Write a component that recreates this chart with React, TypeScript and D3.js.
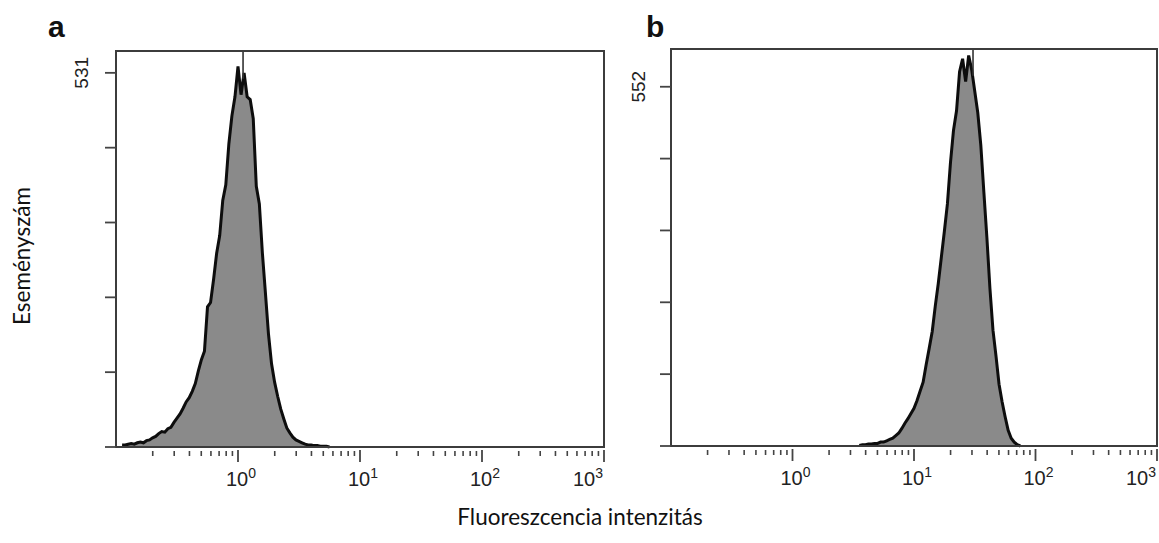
import React from "react";
import * as d3 from "d3";

// ---- data ----
const panelLabels = ["a", "b"];
const yMaxLabels = [531, 552];
const yDomainMax = [562, 610];
const yTickCount = 5;
const xDecadeExps = [0, 1, 2, 3];
const minorMults = [2, 3, 4, 5, 6, 7, 8, 9];
const xDomain: [number, number] = [0.1, 1000];
const markerIntensity = [1.1, 30.6];
const xTitle = "Fluoreszcencia intenzitás";
const yTitle = "Eseményszám";

// channel positions (log10 intensity) and event counts, panel a
const aChannelsLog = [
  -0.95, -0.925, -0.9, -0.875, -0.85, -0.825, -0.8, -0.775, -0.75, -0.725,
  -0.7, -0.675, -0.65, -0.625, -0.6, -0.575, -0.55, -0.525, -0.5, -0.475,
  -0.45, -0.425, -0.4, -0.375, -0.35, -0.325, -0.3, -0.275, -0.25, -0.225,
  -0.2, -0.175, -0.15, -0.125, -0.1, -0.075, -0.05, -0.025, 0.0, 0.025,
  0.05, 0.075, 0.1, 0.125, 0.15, 0.175, 0.2, 0.225, 0.25, 0.275,
  0.3, 0.325, 0.35, 0.375, 0.4, 0.425, 0.45, 0.475, 0.5, 0.525,
  0.55, 0.575, 0.6, 0.625, 0.65, 0.675, 0.7, 0.725, 0.75,
];
const aCounts = [
  3, 3, 4, 5, 4, 6, 7, 6, 9, 10,
  13, 15, 19, 22, 21, 26, 28, 35, 41, 47,
  55, 64, 70, 79, 90, 108, 124, 136, 199, 205,
  238, 275, 300, 350, 372, 430, 470, 497, 540, 500,
  531, 497, 493, 466, 370, 345, 275, 218, 160, 118,
  92, 72, 54, 40, 27, 20, 14, 10, 8, 6,
  4, 3, 3, 2, 2, 1, 1, 1, 0,
];

// channel positions (log10 intensity) and event counts, panel b
const bChannelsLog = [
  0.55, 0.575, 0.6, 0.625, 0.65, 0.675, 0.7, 0.725, 0.75, 0.775,
  0.8, 0.825, 0.85, 0.875, 0.9, 0.925, 0.95, 0.975, 1.0, 1.025,
  1.05, 1.075, 1.1, 1.125, 1.15, 1.175, 1.2, 1.225, 1.25, 1.275,
  1.3, 1.325, 1.35, 1.375, 1.4, 1.425, 1.45, 1.475, 1.5, 1.525,
  1.55, 1.575, 1.6, 1.625, 1.65, 1.675, 1.7, 1.725, 1.75, 1.775,
  1.8, 1.825, 1.85, 1.875,
];
const bCounts = [
  1, 2, 2, 3, 3, 4, 4, 6, 6, 8,
  10, 12, 16, 20, 27, 35, 42, 50, 58, 70,
  84, 98, 125, 150, 176, 215, 250, 290, 330, 372,
  435, 485, 515, 575, 595, 560, 600, 578, 545, 512,
  462, 390, 320, 242, 178, 138, 95, 68, 45, 24,
  12, 6, 2, 0,
];

const channelsLog = [aChannelsLog, bChannelsLog];
const counts = [aCounts, bCounts];

// ---- layout ----
const W = 1159;
const H = 543;
const frames = [
  { left: 116, right: 604, top: 51, bottom: 447, labelX: 48, yLabelOff: 28 },
  { left: 671, right: 1157, top: 49, bottom: 446, labelX: 646, yLabelOff: 26 },
];

const tickFont = "'Liberation Sans', Arial, Helvetica, sans-serif";
const titleFont = "Lato, 'Open Sans', sans-serif";

function Panel({ i }: { i: number }) {
  const f = frames[i];
  const x = d3.scaleLog().domain(xDomain).range([f.left, f.right]);
  const y = d3.scaleLinear().domain([0, yDomainMax[i]]).range([f.bottom, f.top]);
  const data: [number, number][] = channelsLog[i].map((c, k) => [Math.pow(10, c), counts[i][k]]);

  const area = d3
    .area<[number, number]>()
    .x((d) => x(d[0]))
    .y0(y(0))
    .y1((d) => y(d[1]))
    .curve(d3.curveLinear);
  const line = d3
    .line<[number, number]>()
    .x((d) => x(d[0]))
    .y((d) => y(d[1]))
    .curve(d3.curveLinear);

  const yTicks = d3.range(yTickCount + 1).map((k) => (yMaxLabels[i] * k) / yTickCount);

  const minorTicks: number[] = [];
  for (let e = -1; e < 3; e++) {
    for (const m of minorMults) minorTicks.push(m * Math.pow(10, e));
  }

  const mLog = Math.log10(markerIntensity[i]);
  let nearest = 0;
  channelsLog[i].forEach((c, k) => {
    if (Math.abs(c - mLog) < Math.abs(channelsLog[i][nearest] - mLog)) nearest = k;
  });

  return (
    <g>
      <text
        x={f.labelX}
        y={37}
        fontFamily={tickFont}
        fontWeight="bold"
        fontSize={30}
        fill="#111"
      >
        {panelLabels[i]}
      </text>

      <path d={area(data) || ""} fill="#8a8a8a" stroke="none" />
      <path
        d={line(data) || ""}
        fill="none"
        stroke="#0d0d0d"
        strokeWidth={3}
        strokeLinejoin="miter"
        strokeMiterlimit={3}
      />

      <line
        x1={x(markerIntensity[i])}
        x2={x(markerIntensity[i])}
        y1={f.top}
        y2={y(counts[i][nearest]) + 6}
        stroke="#333"
        strokeWidth={1.6}
      />

      <rect
        x={f.left}
        y={f.top}
        width={f.right - f.left}
        height={f.bottom - f.top}
        fill="none"
        stroke="#3c3c3c"
        strokeWidth={2}
      />

      {yTicks.map((t, k) => (
        <line
          key={"yt" + k}
          x1={f.left - 11}
          x2={f.left}
          y1={y(t)}
          y2={y(t)}
          stroke="#444"
          strokeWidth={1.8}
        />
      ))}
      <text
        transform={`translate(${f.left - f.yLabelOff},${y(yMaxLabels[i])}) rotate(-90)`}
        textAnchor="middle"
        fontFamily={tickFont}
        fontSize={19}
        fill="#222"
      >
        {yMaxLabels[i]}
      </text>

      {minorTicks
        .filter((t) => x(t) > f.left + 20)
        .map((t, k) => (
          <line
            key={"mt" + k}
            x1={x(t)}
            x2={x(t)}
            y1={f.bottom + 4}
            y2={f.bottom + 9}
            stroke="#444"
            strokeWidth={1.6}
          />
        ))}
      {xDecadeExps.map((e, k) => {
        const last = k === xDecadeExps.length - 1;
        const px = x(Math.pow(10, e));
        return (
          <g key={"xt" + e}>
            <line
              x1={px}
              x2={px}
              y1={f.bottom + 3}
              y2={f.bottom + 15}
              stroke="#444"
              strokeWidth={1.8}
            />
            <text
              x={last ? px - 1 : px + 3}
              y={f.bottom + 39}
              textAnchor={last ? "end" : "middle"}
              fontFamily={tickFont}
              fontSize={20}
              fill="#222"
            >
              10
              <tspan dy={-8} fontSize={14}>
                {e}
              </tspan>
            </text>
          </g>
        );
      })}
    </g>
  );
}

export default function App() {
  return (
    <svg
      width={W}
      height={H}
      style={{ position: "absolute", left: 0, top: 0, background: "#fff" }}
    >
      <rect x={0} y={0} width={W} height={H} fill="#fff" />
      <Panel i={0} />
      <Panel i={1} />
      <text
        transform={`translate(30,256) rotate(-90)`}
        textAnchor="middle"
        fontFamily={titleFont}
        fontSize={22.5}
        fill="#111"
      >
        {yTitle}
      </text>
      <text
        x={580}
        y={525}
        textAnchor="middle"
        fontFamily={titleFont}
        fontSize={22.5}
        fill="#111"
      >
        {xTitle}
      </text>
    </svg>
  );
}
